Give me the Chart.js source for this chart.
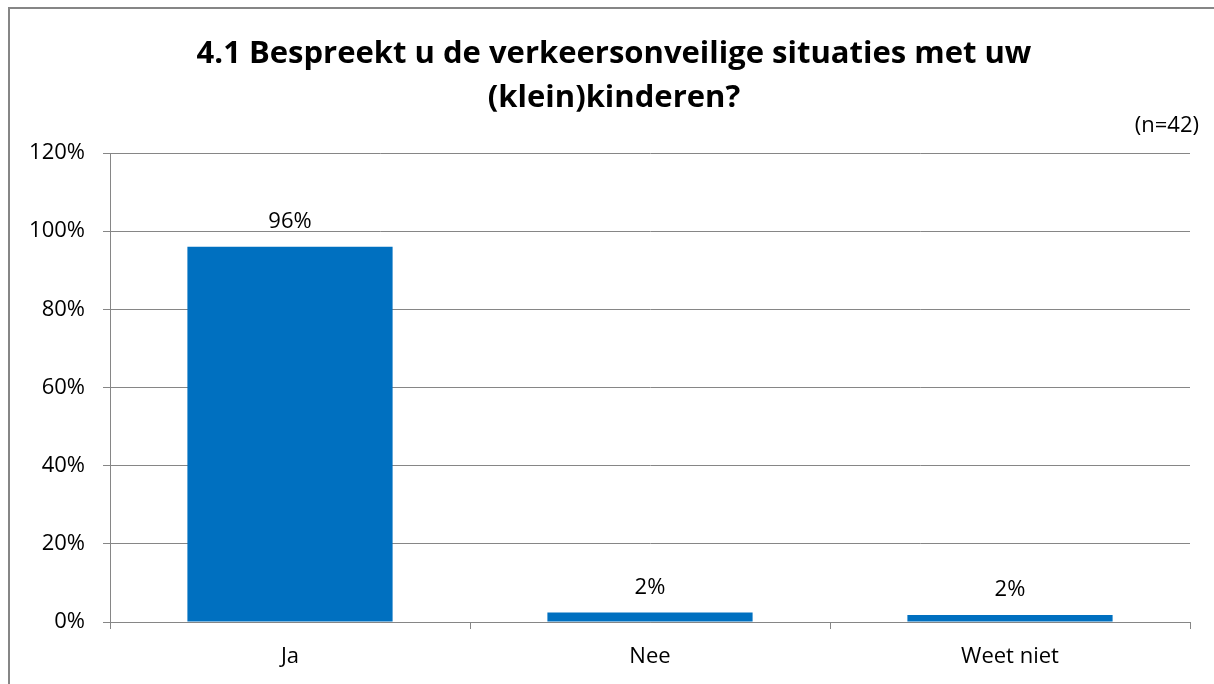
<!DOCTYPE html>
<html>
<head>
<meta charset="utf-8">
<script src="https://cdn.jsdelivr.net/npm/chart.js@4"></script>
<style>
  html, body { margin: 0; padding: 0; background: #fff; }
  #wrap { width: 1214px; height: 684px; position: relative; }
</style>
</head>
<body>
<div id="wrap"><canvas id="chart" width="1214" height="684"></canvas></div>
<script>
// data
const categories = ["Ja", "Nee", "Weet niet"];
const values = [96, 2.4, 1.8];
const yTicks = [0, 20, 40, 60, 80, 100, 120];
const titleLines = ["4.1 Bespreekt u de verkeersonveilige situaties met uw", "(klein)kinderen?"];
const sampleNote = "(n=42)";

const GRID = "#868686";
const BAR = "#0070C0";
const FONT = "'Open Sans', Lato, sans-serif";

// ------------------------------------------------------------
// frame, title, note and value labels
// ------------------------------------------------------------
const decorations = {
  id: "decorations",
  beforeDraw(chart) {
    const { ctx } = chart;
    ctx.save();
    ctx.strokeStyle = GRID;
    ctx.lineWidth = 2;
    ctx.beginPath();
    ctx.moveTo(9, 700);
    ctx.lineTo(9, 8);
    ctx.lineTo(1214, 8);
    ctx.stroke();
    ctx.restore();
  },
  afterDraw(chart) {
    const { ctx } = chart;
    ctx.save();
    ctx.fillStyle = "#000";
    ctx.textAlign = "center";
    ctx.textBaseline = "alphabetic";
    ctx.font = "bold 31px " + FONT;
    titleLines.forEach((line, i) => ctx.fillText(line, 614, 63 + i * 44));

    ctx.font = "22px " + FONT;
    ctx.textAlign = "right";
    ctx.fillText(sampleNote, 1199, 132);

    ctx.textAlign = "center";
    const meta = chart.getDatasetMeta(0);
    meta.data.forEach((bar, i) => {
      ctx.fillText(Math.round(values[i]) + "%", bar.x, bar.y - 19);
    });
    ctx.restore();
  }
};

new Chart(document.getElementById("chart"), {
  type: "bar",
  data: {
    labels: categories,
    datasets: [{
      data: values,
      backgroundColor: BAR,
      borderWidth: 0,
      categoryPercentage: 1,
      barPercentage: 0.57
    }]
  },
  options: {
    responsive: false,
    animation: false,
    layout: { padding: { top: 153, right: 24, left: 0, bottom: 0 } },
    plugins: {
      legend: { display: false },
      title: { display: false },
      tooltip: { enabled: false }
    },
    scales: {
      x: {
        afterFit: axis => { axis.height = 62; },
        grid: { display: true, drawOnChartArea: false, offset: true, tickLength: 7, color: GRID },
        border: { color: GRID, width: 1 },
        ticks: { color: "#000", font: { family: FONT, size: 22 }, padding: 15 }
      },
      y: {
        min: 0,
        max: 120,
        afterBuildTicks: axis => { axis.ticks = yTicks.map(v => ({ value: v })); },
        afterFit: axis => { axis.width = 110; },
        grid: { color: GRID, tickLength: 7 },
        border: { color: GRID, width: 1 },
        ticks: {
          color: "#000",
          font: { family: FONT, size: 22 },
          padding: 18,
          callback: v => v + "%"
        }
      }
    }
  },
  plugins: [decorations]
});
</script>
</body>
</html>
